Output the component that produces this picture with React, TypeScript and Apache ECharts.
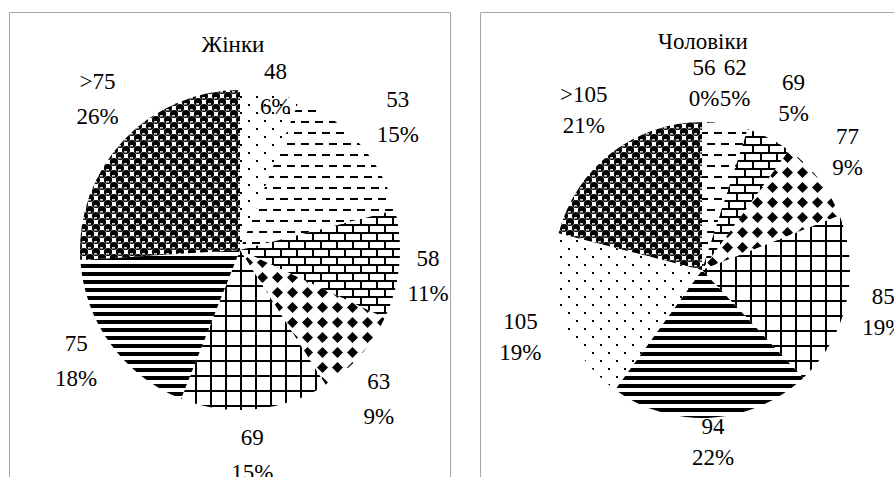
import React, { useEffect, useRef } from "react";
import * as echarts from "echarts";

const womenTitle = "Жінки";
const menTitle = "Чоловіки";
const womenCategories = ["48", "53", "58", "63", "69", "75", ">75"];
const womenShares = [6, 15, 11, 9, 15, 18, 26];
const menCategories = ["56", "62", "69", "77", "85", "94", "105", ">105"];
const menShares = [0, 5, 5, 9, 19, 22, 19, 21];

// small label nudges (Excel "best fit" placement)
const womenLabelNudge: Record<string, number[]> = {
  "48": [-3, 40], "53": [4, 3], "58": [-16, 7], "63": [-15, 13],
  "69": [-7, 1], "75": [2, -9], ">75": [7, -11],
};
const menLabelNudge: Record<string, number[]> = {
  "56": [2, 6], "62": [3, 4], "69": [4, 0], "77": [-7, 0],
  "85": [-7, 0], "94": [-1, -21], "105": [0, 2], ">105": [0, -8],
};

type Drawer = (c: CanvasRenderingContext2D) => void;

function tile(w: number, h: number, draw: Drawer) {
  const cv = document.createElement("canvas");
  cv.width = w;
  cv.height = h;
  const c = cv.getContext("2d")!;
  c.fillStyle = "#fff";
  c.fillRect(0, 0, w, h);
  c.fillStyle = "#000";
  draw(c);
  return { image: cv.toDataURL(), imageWidth: w, imageHeight: h, repeat: "repeat" };
}

function makePatterns() {
  const dots = tile(16, 16, (c) => {
    c.fillRect(0, 0, 2, 2);
    c.fillRect(8, 8, 2, 2);
  });
  const dashes = tile(14, 22, (c) => {
    c.fillRect(0, 0, 8, 2);
    c.fillRect(7, 11, 7, 2);
    c.fillRect(0, 11, 1, 2);
  });
  const bricks = tile(16, 16, (c) => {
    c.fillRect(0, 0, 16, 2);
    c.fillRect(0, 8, 16, 2);
    c.fillRect(0, 0, 2, 8);
    c.fillRect(8, 8, 2, 8);
  });
  const diamonds = tile(15, 15, (c) => {
    c.beginPath();
    c.moveTo(7.5, 2);
    c.lineTo(13, 7.5);
    c.lineTo(7.5, 13);
    c.lineTo(2, 7.5);
    c.closePath();
    c.fill();
  });
  const grid = tile(15, 15, (c) => {
    c.fillRect(0, 0, 15, 2);
    c.fillRect(0, 0, 2, 15);
  });
  const hlines = tile(8, 8, (c) => {
    c.fillRect(0, 0, 8, 4);
  });
  const spheres = tile(12, 12, (c) => {
    const centres = [[0, 0], [12, 0], [0, 12], [12, 12], [6, 6]];
    c.fillStyle = "#000";
    centres.forEach(([x, y]) => {
      c.beginPath();
      c.arc(x, y, 4.1, 0, Math.PI * 2);
      c.fill();
    });
    c.fillStyle = "#fff";
    centres.forEach(([x, y]) => {
      c.fillRect(x - 2, y + 1.2, 3, 1.3);
    });
  });
  return { dots, dashes, bricks, diamonds, grid, hlines, spheres };
}

const fontFamily = "'Liberation Serif', 'Times New Roman', serif";
const fontSize = 23;

export default function App() {
  const ref = useRef<HTMLDivElement>(null);
  useEffect(() => {
    if (!ref.current) return;
    const chart = echarts.init(ref.current, undefined, { renderer: "svg" });
    const p = makePatterns();
    const womenFills = [p.dots, p.dashes, p.bricks, p.diamonds, p.grid, p.hlines, p.spheres];
    const menFills = [p.dots, p.dashes, p.bricks, p.diamonds, p.grid, p.hlines, p.dots, p.spheres];

    const pieSeries = (
      names: string[],
      vals: number[],
      fills: any[],
      center: number[],
      r: number,
      nudge: Record<string, number[]>,
      lineHeight: number
    ) => [
      {
        type: "pie",
        center,
        radius: [0, r],
        startAngle: 90,
        clockwise: true,
        silent: true,
        label: { show: false },
        labelLine: { show: false },
        emphasis: { disabled: true },
        data: names.map((n, i) => ({
          name: n,
          value: vals[i],
          itemStyle: { color: fills[i], borderWidth: 0 },
        })),
      },
      {
        type: "pie",
        center,
        radius: [r + 22, r + 62],
        startAngle: 90,
        clockwise: true,
        silent: true,
        label: {
          show: true,
          position: "inside",
          color: "#000",
          fontFamily,
          fontSize,
          lineHeight,
          formatter: (prm: any) => `${prm.name}\n${Math.round(prm.value)}%`,
        },
        labelLine: { show: false },
        emphasis: { disabled: true },
        itemStyle: { color: "rgba(0,0,0,0)", borderWidth: 0 },
        data: names.map((n, i) => ({
          name: n,
          value: vals[i],
          label: { offset: nudge[n] || [0, 0] },
        })),
      },
    ];

    chart.setOption({
      animation: false,
      backgroundColor: "#fff",
      graphic: [
        {
          type: "rect",
          shape: { x: 9.5, y: 12.5, width: 441, height: 520 },
          style: { fill: "none", stroke: "#a6a6a6", lineWidth: 1 },
          z: -1,
        },
        {
          type: "rect",
          shape: { x: 480.5, y: 12.5, width: 440, height: 520 },
          style: { fill: "none", stroke: "#a6a6a6", lineWidth: 1 },
          z: -1,
        },
        {
          type: "text",
          x: 233,
          y: 44,
          style: {
            text: womenTitle,
            align: "center",
            verticalAlign: "middle",
            fontFamily,
            fontSize,
            fill: "#000",
          },
        },
        {
          type: "text",
          x: 703,
          y: 41,
          style: {
            text: menTitle,
            align: "center",
            verticalAlign: "middle",
            fontFamily,
            fontSize,
            fill: "#000",
          },
        },
      ],
      series: [
        ...pieSeries(womenCategories, womenShares, womenFills, [240, 250], 160, womenLabelNudge, 35),
        ...pieSeries(menCategories, menShares, menFills, [702, 270], 148, menLabelNudge, 31),
      ],
    });
    return () => chart.dispose();
  }, []);
  return (
    <div
      ref={ref}
      style={{ position: "fixed", left: 0, top: 0, width: 894, height: 477 }}
    />
  );
}
